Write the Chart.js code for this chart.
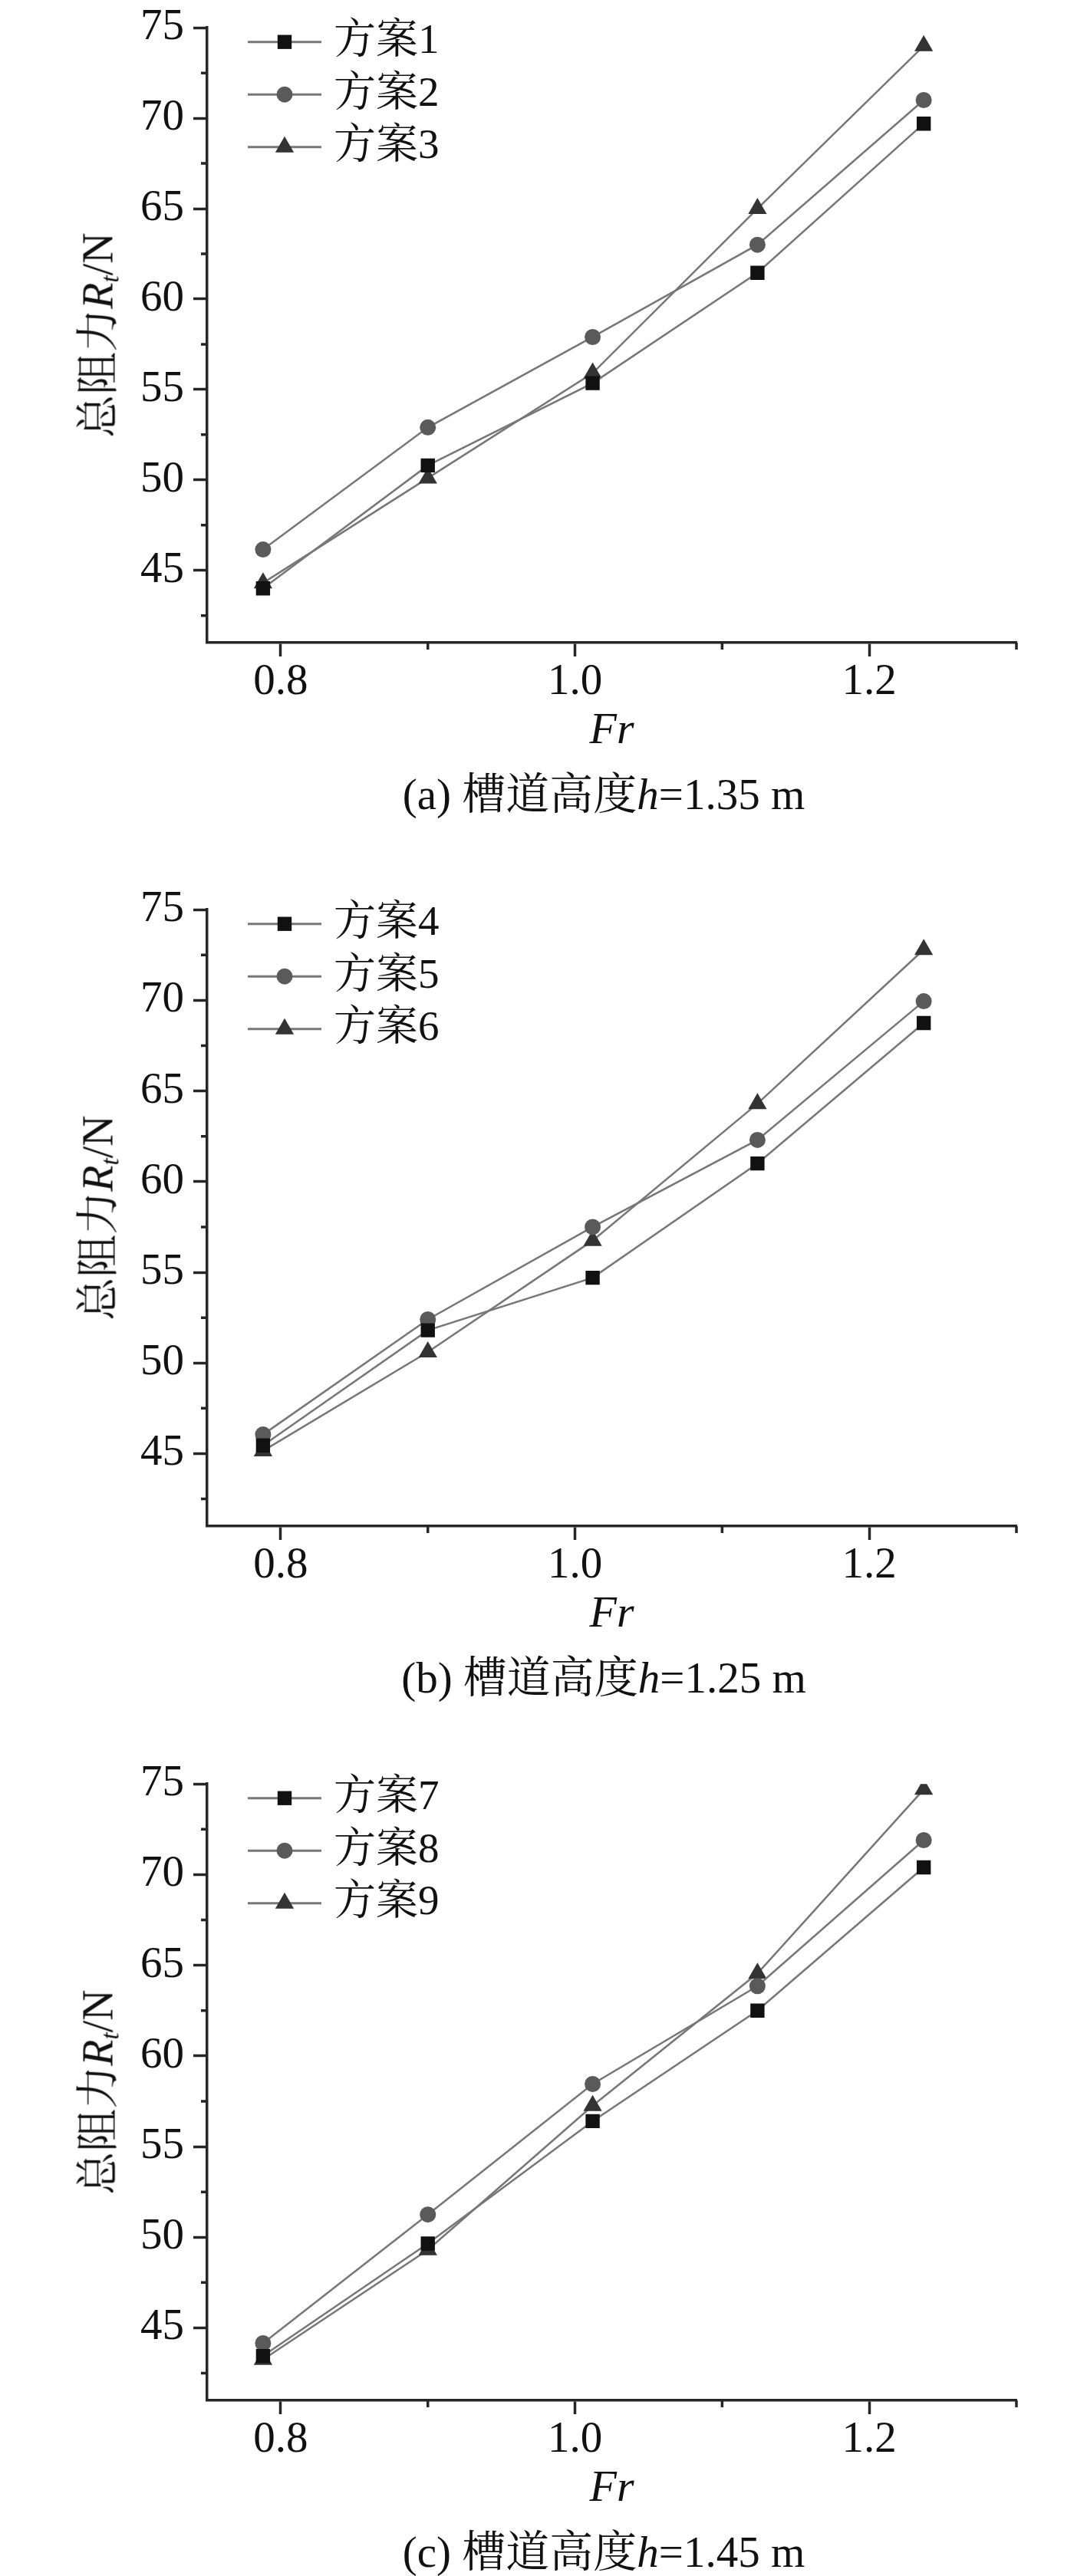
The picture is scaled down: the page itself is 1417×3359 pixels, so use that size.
<!DOCTYPE html>
<html>
<head>
<meta charset="utf-8">
<script src="https://cdn.jsdelivr.net/npm/chart.js@4.4.0/dist/chart.umd.min.js"></script>
<style>
  html, body { margin: 0; padding: 0; background: #fff; }
  #page { position: relative; width: 1417px; height: 3359px; overflow: hidden;
          font-family: 'Liberation Serif', 'Noto Serif CJK SC', 'Noto Sans CJK SC', serif; color: #111; }
  #page canvas { position: absolute; left: 0; }
  .ytitle { position: absolute; left: 130px; transform: translate(-50%, -50%) rotate(-90deg);
            white-space: nowrap; font-size: 56px; line-height: 1; }
  .ytitle sub { font-size: 0.6em; vertical-align: -0.25em; }
  .caption { position: absolute; left: 787px; transform: translate(-50%, -50%);
             white-space: nowrap; font-size: 57px; line-height: 1; }
</style>
</head>
<body>
<div id="page"></div>
<script>
// Fr values shared by all three panels
const frValues = [0.788, 0.900, 1.012, 1.124, 1.237];
const xTicks = [0.8, 1.0, 1.2];
const xMinorTicks = [0.9, 1.1, 1.3];
const yTicks = [45, 50, 55, 60, 65, 70, 75];
const yMinorTicks = [42.5, 47.5, 52.5, 57.5, 62.5, 67.5, 72.5];

// (a) h = 1.35 m
const namesA = ['方案1', '方案2', '方案3'];
const plan1 = [44.0, 50.8, 55.35, 61.45, 69.7];
const plan2 = [46.15, 52.9, 57.9, 63.0, 71.0];
const plan3 = [44.3, 50.1, 55.9, 65.0, 74.0];

// (b) h = 1.25 m
const namesB = ['方案4', '方案5', '方案6'];
const plan4 = [45.45, 51.8, 54.7, 61.0, 68.75];
const plan5 = [46.05, 52.4, 57.5, 62.3, 69.95];
const plan6 = [45.15, 50.6, 56.75, 64.3, 72.8];

// (c) h = 1.45 m
const namesC = ['方案7', '方案8', '方案9'];
const plan7 = [43.45, 49.65, 56.4, 62.5, 70.4];
const plan8 = [44.15, 51.25, 58.45, 63.85, 71.9];
const plan9 = [43.25, 49.3, 57.25, 64.55, 74.7];

const captions = ['(a) 槽道高度<i>h</i>=1.35 m', '(b) 槽道高度<i>h</i>=1.25 m', '(c) 槽道高度<i>h</i>=1.45 m'];

// plot area (page pixels) of each panel
const panels = [
  { names: namesA, series: [plan1, plan2, plan3], plotTop: 30,   plotBottom: 838 },
  { names: namesB, series: [plan4, plan5, plan6], plotTop: 1180, plotBottom: 1990 },
  { names: namesC, series: [plan7, plan8, plan9], plotTop: 2320, plotBottom: 3130 }
];

const axisColor = '#262626';
const lineColor = '#777777';
const serif = "'Liberation Serif', 'Noto Serif CJK SC', 'Noto Sans CJK SC', serif";
const markers = [
  { pointStyle: 'rect', radius: 13, color: '#111111' },
  { pointStyle: 'circle', radius: 10.5, color: '#5a5a5a' },
  { pointStyle: 'triangle', radius: 14, color: '#333333' }
];

const PAD_TOP = 40, PLOT_LEFT = 270, PLOT_RIGHT = 1325, BELOW = 150;
const TICK_SIZE = 57, FR_OFFSET = 116, FR_SIZE = 58, CAPTION_OFFSET = 197;

// minor ticks + inline legend
const extrasPlugin = {
  id: 'extras',
  afterDraw(chart) {
    const ctx = chart.ctx, xs = chart.scales.x, ys = chart.scales.y, area = chart.chartArea;
    ctx.save();
    ctx.strokeStyle = axisColor;
    ctx.lineWidth = 3.5;
    ctx.beginPath();
    yMinorTicks.forEach(v => {
      const py = ys.getPixelForValue(v);
      ctx.moveTo(area.left - 8, py); ctx.lineTo(area.left, py);
    });
    xMinorTicks.forEach(v => {
      const px = xs.getPixelForValue(v);
      ctx.moveTo(px, area.bottom); ctx.lineTo(px, area.bottom + 9);
    });
    ctx.stroke();

    // legend, top left inside the plot
    chart.data.datasets.forEach((ds, i) => {
      const y = area.top + 18.5 + i * 68.5;
      ctx.strokeStyle = lineColor;
      ctx.lineWidth = 3;
      ctx.beginPath(); ctx.moveTo(323, y); ctx.lineTo(419, y); ctx.stroke();
      ctx.fillStyle = ds.pointBackgroundColor;
      Chart.helpers.drawPoint(ctx, { pointStyle: ds.pointStyle, radius: ds.pointRadius, borderWidth: 0 }, 371, y);
      ctx.fillStyle = '#111';
      ctx.font = '55px ' + serif;
      ctx.textBaseline = 'middle';
      ctx.textAlign = 'left';
      ctx.fillText(ds.label, 435, y);
    });
    ctx.restore();
  }
};

const page = document.getElementById('page');

panels.forEach((p, k) => {
  const plotH = p.plotBottom - p.plotTop;
  const canvasH = PAD_TOP + plotH + BELOW;
  const canvas = document.createElement('canvas');
  canvas.width = 1417;
  canvas.height = canvasH;
  canvas.style.top = (p.plotTop - PAD_TOP) + 'px';
  canvas.style.width = '1417px';
  canvas.style.height = canvasH + 'px';
  page.appendChild(canvas);

  const title = document.createElement('div');
  title.className = 'ytitle';
  title.style.top = ((p.plotTop + p.plotBottom) / 2 + 3) + 'px';
  title.innerHTML = '总阻力<i>R<sub>t</sub></i>/N';
  page.appendChild(title);

  const cap = document.createElement('div');
  cap.className = 'caption';
  cap.style.top = (p.plotBottom + CAPTION_OFFSET) + 'px';
  cap.innerHTML = captions[k];
  page.appendChild(cap);

  const datasets = p.series.map((vals, i) => ({
    label: p.names[i],
    data: vals.map((v, j) => ({ x: frValues[j], y: v })),
    borderColor: lineColor,
    borderWidth: 2.5,
    pointStyle: markers[i].pointStyle,
    pointRadius: markers[i].radius,
    pointBackgroundColor: markers[i].color,
    pointBorderWidth: 0,
    tension: 0
  }));

  new Chart(canvas.getContext('2d'), {
    type: 'line',
    data: { datasets },
    plugins: [extrasPlugin],
    options: {
      responsive: false,
      animation: false,
      devicePixelRatio: 1,
      layout: { padding: { top: PAD_TOP, left: 0, right: 1417 - PLOT_RIGHT, bottom: 0 } },
      plugins: { legend: { display: false }, tooltip: { enabled: false } },
      scales: {
        x: {
          type: 'linear',
          min: 0.75, max: 1.3,
          afterBuildTicks: s => { s.ticks = xTicks.map(v => ({ value: v })); },
          afterFit: s => { s.height = BELOW; },
          ticks: { color: '#111', padding: 0, font: { family: serif, size: TICK_SIZE }, callback: v => v.toFixed(1), maxRotation: 0 },
          grid: { drawOnChartArea: false, tickLength: 18, tickWidth: 3.5, tickColor: axisColor },
          border: { color: axisColor, width: 3.5 },
          title: {
            display: true, text: 'Fr', color: '#111',
            font: { family: serif, size: FR_SIZE, style: 'italic' },
            padding: { top: 0, bottom: BELOW - FR_OFFSET - FR_SIZE * 0.6 }
          }
        },
        y: {
          min: 41, max: 75,
          afterBuildTicks: s => { s.ticks = yTicks.map(v => ({ value: v })); },
          afterFit: s => { s.width = PLOT_LEFT; },
          ticks: { color: '#111', padding: 12, font: { family: serif, size: TICK_SIZE } },
          grid: { drawOnChartArea: false, tickLength: 18, tickWidth: 3.5, tickColor: axisColor },
          border: { color: axisColor, width: 3.5 }
        }
      }
    }
  });
});
</script>
</body>
</html>
